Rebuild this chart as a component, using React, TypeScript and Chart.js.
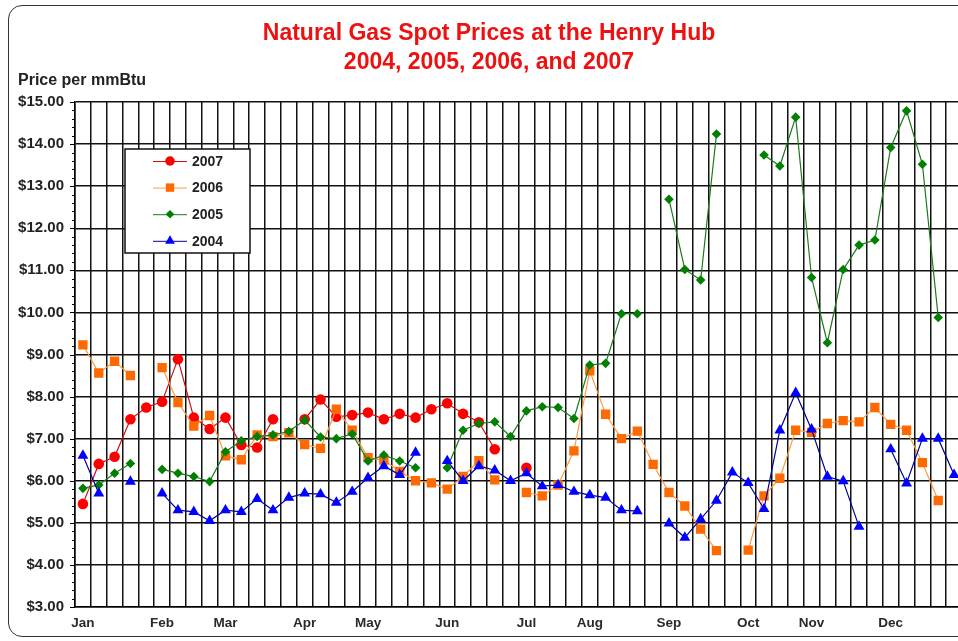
import React, { useEffect, useRef } from "react";
import { Chart, registerables } from "chart.js";

Chart.register(...registerables);

const FONT = '"Liberation Sans", Arial, Helvetica, sans-serif';

const monthStarts: Record<number, string> = {
  0: "Jan", 5: "Feb", 9: "Mar", 14: "Apr", 18: "May", 23: "Jun",
  28: "Jul", 32: "Aug", 37: "Sep", 42: "Oct", 46: "Nov", 51: "Dec",
};
const WEEKS = 56;
const weekLabels: string[] = Array.from({ length: WEEKS }, (_, i) => monthStarts[i] ?? "");

const yTickValues = [3, 4, 5, 6, 7, 8, 9, 10, 11, 12, 13, 14, 15];

const prices2007: (number | null)[] = [
  5.45, 6.40, 6.57, 7.46, 7.74, 7.88, 8.89, 7.50, 7.23, 7.50,
  6.85, 6.79, 7.46, null, 7.46, 7.93, 7.52, 7.56, 7.62, 7.46,
  7.59, 7.50, 7.70, 7.84, 7.59, 7.39, 6.75, null, 6.31, null,
  null, null, null, null, null, null, null, null, null, null,
  null, null, null, null, null, null, null, null, null, null,
  null, null, null, null, null, null,
];

const prices2006: (number | null)[] = [
  9.23, 8.56, 8.84, 8.50, null, 8.69, 7.86, 7.30, 7.55, 6.59,
  6.50, 7.09, 7.05, 7.14, 6.86, 6.77, 7.70, 7.20, 6.55, 6.49,
  6.22, 6.00, 5.95, 5.80, 6.10, 6.48, 6.02, null, 5.72, 5.64,
  5.90, 6.71, 8.61, 7.58, 7.00, 7.18, 6.39, 5.72, 5.40, 4.85,
  4.34, null, 4.35, 5.64, 6.06, 7.20, 7.15, 7.36, 7.43, 7.40,
  7.74, 7.34, 7.20, 6.43, 5.53, null,
];

const prices2005: (number | null)[] = [
  5.82, 5.90, 6.18, 6.41, null, 6.27, 6.18, 6.10, 5.98, 6.69,
  6.95, 7.05, 7.09, 7.17, 7.44, 7.04, 7.00, 7.11, 6.47, 6.61,
  6.47, 6.31, null, 6.31, 7.20, 7.36, 7.40, 7.05, 7.66, 7.76,
  7.74, 7.48, 8.75, 8.79, 9.97, 9.97, null, 12.69, 11.02, 10.77,
  14.24, null, null, 13.74, 13.48, 14.64, 10.83, 9.28, 11.02, 11.60,
  11.72, 13.92, 14.79, 13.52, 9.88, null,
];

const prices2004: (number | null)[] = [
  6.60, 5.70, null, 5.98, null, 5.70, 5.30, 5.26, 5.05, 5.30,
  5.26, 5.57, 5.30, 5.60, 5.70, 5.68, 5.48, 5.74, 6.07, 6.35,
  6.14, 6.67, null, 6.47, 6.00, 6.35, 6.25, 6.00, 6.18, 5.87,
  5.90, 5.74, 5.66, 5.60, 5.30, 5.28, null, 4.99, 4.65, 5.09,
  5.53, 6.20, 5.95, 5.33, 7.20, 8.09, 7.22, 6.10, 5.99, 4.91,
  null, 6.75, 5.94, 7.00, 7.00, 6.14,
];

const titleLines = ["Natural Gas Spot Prices at the Henry Hub", "2004, 2005, 2006, and 2007"];
const axisTitle = "Price per mmBtu";

type SeriesStyle = { label: string; data: (number | null)[]; line: string; marker: string; shape: string; radius: number };

const series: SeriesStyle[] = [
  { label: "2004", data: prices2004, line: "#000099", marker: "#0000ff", shape: "triangle", radius: 6.3 },
  { label: "2005", data: prices2005, line: "#1a7a1a", marker: "#008000", shape: "rectRot", radius: 4.8 },
  { label: "2006", data: prices2006, line: "#ff9a40", marker: "#ff6a00", shape: "rect", radius: 6.6 },
  { label: "2007", data: prices2007, line: "#cc1010", marker: "#ff0000", shape: "circle", radius: 5.3 },
];
const legendOrder = ["2007", "2006", "2005", "2004"];

function drawMarker(ctx: CanvasRenderingContext2D, shape: string, x: number, y: number, r: number, color: string) {
  ctx.save();
  ctx.fillStyle = color;
  ctx.beginPath();
  if (shape === "circle") {
    ctx.arc(x, y, r, 0, Math.PI * 2);
  } else if (shape === "rect") {
    const s = Math.SQRT1_2 * r;
    ctx.rect(x - s, y - s, 2 * s, 2 * s);
  } else if (shape === "rectRot") {
    ctx.moveTo(x - r, y);
    ctx.lineTo(x, y - r);
    ctx.lineTo(x + r, y);
    ctx.lineTo(x, y + r);
    ctx.closePath();
  } else {
    ctx.moveTo(x, y - r);
    ctx.lineTo(x + Math.sin((2 * Math.PI) / 3) * r, y + r / 2);
    ctx.lineTo(x - Math.sin((2 * Math.PI) / 3) * r, y + r / 2);
    ctx.closePath();
  }
  ctx.fill();
  ctx.restore();
}

const decorPlugin = {
  id: "decor",
  afterDraw(chart: any) {
    const ctx: CanvasRenderingContext2D = chart.ctx;
    const area = chart.chartArea;
    const yScale = chart.scales.y;
    ctx.save();
    // title
    ctx.fillStyle = "#ee1111";
    ctx.font = `bold 23px ${FONT}`;
    ctx.textAlign = "center";
    ctx.textBaseline = "middle";
    ctx.fillText(titleLines[0], 489, 34);
    ctx.fillText(titleLines[1], 489, 63);
    // axis title
    ctx.fillStyle = "#222";
    ctx.font = `bold 16px ${FONT}`;
    ctx.textAlign = "left";
    ctx.fillText(axisTitle, 18, 81);
    // y ticks (major + minor)
    ctx.strokeStyle = "#000";
    ctx.lineWidth = 1;
    for (let k = 0; k <= 60; k++) {
      const v = 3 + k * 0.2;
      const py = Math.round(yScale.getPixelForValue(v)) + 0.5;
      const len = k % 5 === 0 ? 5 : 3;
      ctx.beginPath();
      ctx.moveTo(area.left - len, py);
      ctx.lineTo(area.left, py);
      ctx.stroke();
    }
    // legend
    const bx = 125, by = 149, bw = 125, bh = 104;
    ctx.fillStyle = "#fff";
    ctx.fillRect(bx, by, bw, bh);
    ctx.strokeStyle = "#111";
    ctx.lineWidth = 1.5;
    ctx.strokeRect(bx, by, bw, bh);
    ctx.font = `bold 14px ${FONT}`;
    ctx.textAlign = "left";
    ctx.textBaseline = "middle";
    legendOrder.forEach((lab, i) => {
      const s = series.find((d) => d.label === lab)!;
      const ry = 161 + i * 26.6;
      ctx.strokeStyle = s.line;
      ctx.lineWidth = 1;
      ctx.beginPath();
      ctx.moveTo(153, ry + 0.5);
      ctx.lineTo(187, ry + 0.5);
      ctx.stroke();
      drawMarker(ctx, s.shape, 170, ry, s.radius * 0.9, s.marker);
      ctx.fillStyle = "#222";
      ctx.fillText(s.label, 192, ry + 1);
    });
    ctx.restore();
  },
};

export default function App() {
  const canvasRef = useRef<HTMLCanvasElement | null>(null);

  useEffect(() => {
    if (!canvasRef.current) return;
    const chart = new Chart(canvasRef.current, {
      type: "line",
      data: {
        labels: weekLabels,
        datasets: series.map((s) => ({
          label: s.label,
          data: s.data,
          borderColor: s.line,
          backgroundColor: s.marker,
          pointBackgroundColor: s.marker,
          pointBorderColor: s.marker,
          pointBorderWidth: 0,
          pointStyle: s.shape as any,
          pointRadius: s.radius,
          pointHoverRadius: s.radius,
          borderWidth: 1.2,
          tension: 0,
          spanGaps: false,
          fill: false,
        })),
      },
      options: {
        animation: false,
        responsive: false,
        events: [],
        layout: { padding: { top: 102, left: 0, right: 18, bottom: 0 } },
        plugins: {
          legend: { display: false },
          title: { display: false },
          tooltip: { enabled: false },
        },
        scales: {
          x: {
            type: "category",
            offset: true,
            grid: { offset: true, color: "#111", lineWidth: 1.5, drawTicks: false },
            border: { color: "#000", width: 1.5 },
            ticks: {
              autoSkip: false,
              maxRotation: 0,
              minRotation: 0,
              padding: 8,
              color: "#2a2a2a",
              font: { family: FONT, size: 13.5, weight: "bold" },
            },
            afterFit: (s: any) => { s.height = 34; },
          },
          y: {
            min: 3,
            max: 15,
            afterBuildTicks: (s: any) => { s.ticks = yTickValues.map((v) => ({ value: v })); },
            ticks: {
              padding: 11,
              color: "#222",
              font: { family: FONT, size: 15, weight: "bold" },
              callback: (v: any) => "$" + Number(v).toFixed(2),
            },
            grid: { color: "#111", lineWidth: 1.5, drawTicks: false },
            border: { color: "#000", width: 1.5 },
            afterFit: (s: any) => { s.width = 75; },
          },
        },
      },
      plugins: [decorPlugin],
    });
    return () => chart.destroy();
  }, []);

  return (
    <div style={{ position: "absolute", left: 0, top: 0, width: 958, height: 641, overflow: "hidden", background: "#fff" }}>
      <div
        style={{
          position: "absolute", left: 8, top: 5, width: 1000, height: 632,
          border: "1.5px solid #333", borderRadius: 14, boxSizing: "border-box", background: "#fff",
        }}
      />
      <canvas
        ref={canvasRef}
        width={980}
        height={641}
        style={{ position: "absolute", left: 0, top: 0, width: 980, height: 641 }}
      />
    </div>
  );
}
